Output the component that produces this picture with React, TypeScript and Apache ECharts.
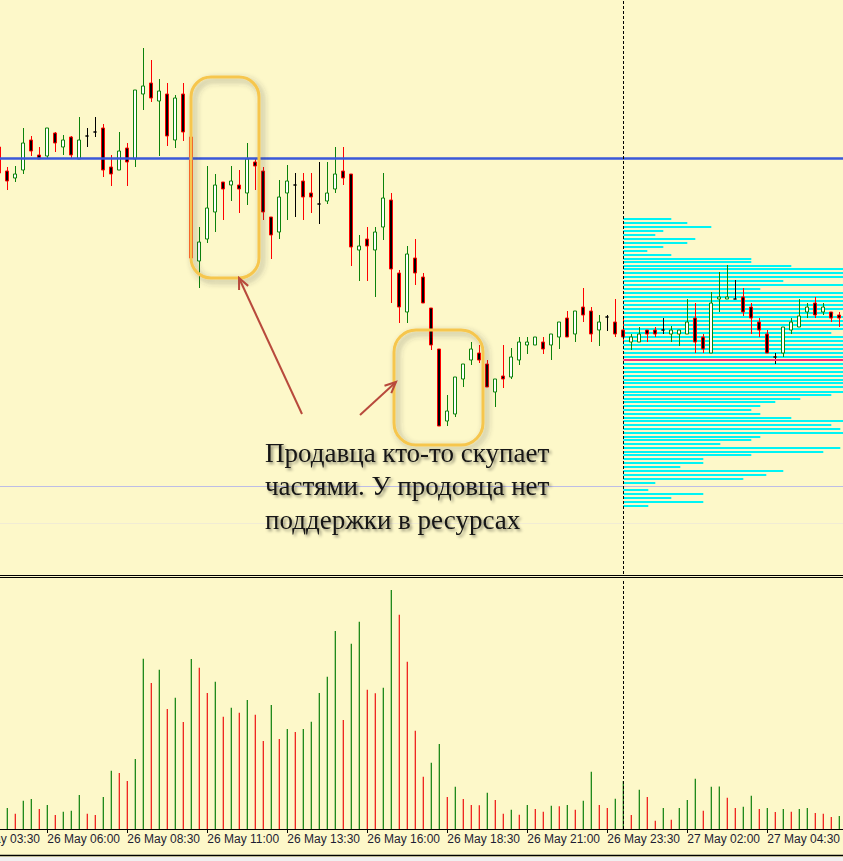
import React, { useEffect, useRef } from 'react';
import * as echarts from 'echarts';

// ---- price data (points), 15-minute candles, first candle 26 May 04:30 ----
const opens = [453, 429, 422, 430, 460, 445, 444, 467, 453, 463, 441, 464, 468, 472, 433, 430, 452, 441, 506, 517,
  499, 506, 460, 506, 463, 339, 361, 388, 418, 415, 415, 407, 438, 429, 383, 368, 407, 415, 419, 407,
  396, 399, 411, 429, 426, 350, 361, 350, 373, 400, 327, 288, 342, 323, 292, 251, 179, 186, 221, 240,
  247, 236, 208, 224, 223, 240, 255, 255, 258, 255, 263, 282, 266, 293, 289, 270, 283, 278, 270, 258,
  258, 270, 270, 270, 266, 266, 266, 282, 263, 247, 301, 301, 301, 303, 293, 278, 266, 243, 247, 270,
  273, 288, 297, 288, 288, 285];
const highs = [457, 433, 434, 472, 464, 453, 472, 468, 465, 464, 483, 472, 483, 476, 445, 468, 457, 510, 552, 540,
  521, 517, 505, 517, 502, 373, 434, 426, 418, 434, 430, 457, 441, 433, 383, 420, 435, 427, 427, 427,
  438, 438, 453, 453, 426, 365, 373, 373, 427, 407, 330, 354, 361, 327, 292, 251, 205, 223, 236, 258,
  255, 240, 221, 255, 252, 263, 263, 263, 263, 266, 278, 289, 289, 312, 293, 285, 285, 301, 282, 266,
  273, 270, 273, 282, 274, 270, 301, 297, 266, 308, 328, 335, 320, 312, 297, 282, 270, 247, 273, 282,
  301, 297, 303, 297, 288, 288];
const lows = [423, 410, 418, 426, 444, 441, 441, 448, 445, 441, 441, 453, 463, 423, 414, 430, 414, 433, 490, 498,
  444, 454, 452, 459, 340, 312, 357, 368, 380, 399, 387, 395, 410, 380, 341, 361, 380, 383, 380, 387,
  376, 396, 407, 415, 334, 319, 319, 303, 360, 297, 277, 277, 315, 297, 250, 174, 174, 183, 213, 235,
  237, 213, 193, 212, 221, 235, 246, 255, 246, 240, 251, 263, 258, 278, 258, 254, 269, 263, 257, 250,
  258, 258, 263, 266, 258, 254, 266, 247, 247, 247, 288, 301, 301, 284, 266, 263, 247, 236, 243, 266,
  273, 282, 282, 285, 278, 273];
const closes = [427, 419, 426, 457, 449, 441, 472, 457, 460, 445, 460, 464, 468, 430, 426, 449, 438, 510, 514, 502,
  509, 464, 502, 468, 342, 358, 392, 415, 411, 419, 411, 441, 434, 388, 365, 403, 419, 415, 403, 403,
  396, 407, 426, 422, 353, 354, 354, 368, 402, 331, 293, 346, 327, 297, 255, 174, 189, 223, 236, 251,
  240, 213, 221, 221, 243, 258, 258, 263, 251, 266, 278, 263, 289, 285, 266, 278, 283, 266, 263, 263,
  266, 266, 266, 270, 270, 270, 278, 258, 251, 297, 303, 303, 301, 288, 282, 270, 247, 243, 273, 278,
  284, 293, 285, 293, 282, 282];
const volumes = [180, 210, 153, 283, 300, 200, 240, 140, 173, 183, 340, 153, 140, 320, 583, 560, 480, 700, 1703, 1460,
  1593, 1200, 1313, 1070, 1700, 1613, 1360, 1473, 1123, 1213, 1163, 1290, 1143, 880, 1240, 900, 1000, 970, 1000, 1073,
  1360, 1523, 1980, 1090, 1853, 2073, 1393, 1357, 1413, 2390, 2143, 1673, 983, 523, 663, 850, 320, 423, 300, 240,
  237, 363, 290, 153, 193, 143, 240, 200, 173, 233, 227, 240, 193, 283, 573, 240, 210, 303, 480, 140,
  393, 320, 83, 210, 93, 210, 290, 503, 183, 423, 425, 313, 210, 223, 333, 200, 210, 170, 200, 173,
  200, 210, 160, 153, 120, 130];

// x-axis tick labels (every 10 bars, starting 4 bars before the first candle)
const timeLabels = ['26 May 03:30', '26 May 06:00', '26 May 08:30', '26 May 11:00', '26 May 13:30', '26 May 16:00',
  '26 May 18:30', '26 May 21:00', '26 May 23:30', '27 May 02:00', '27 May 04:30'];
const leadBars = 4;
const labelEvery = 10;

// horizontal levels
const blueLevel = 442;
const lavenderLevel = 114;
const faintLevel = 77;
const dayBreakIndex = 78; // 27 May 00:00

// volume profile of the new day
const profilePrices = [381, 377, 373, 369, 365, 361, 357, 353, 349, 345, 341, 338, 334, 331, 327, 323, 319, 315, 311, 307,
  303, 299, 295, 291, 287, 283, 279, 275, 271, 267, 263, 259, 255, 251, 247, 243, 236, 232, 228, 224,
  220, 217, 213, 208, 205, 201, 198, 194, 190, 186, 182, 179, 175, 171, 167, 163, 160, 156, 152, 148,
  145, 141, 137, 133, 129, 125, 121, 117, 110, 106, 102, 98, 94];
const profileVolumes = [48, 64, 88, 40, 32, 72, 64, 40, 24, 48, 128, 128, 168, 240, 240, 240, 160, 240, 137, 240,
  240, 240, 240, 240, 210, 240, 240, 240, 240, 208, 240, 240, 240, 240, 240, 240, 240, 240, 240, 240,
  240, 240, 240, 240, 208, 177, 152, 137, 128, 137, 168, 240, 208, 217, 240, 137, 128, 97, 217, 200,
  128, 80, 80, 57, 160, 143, 120, 32, 25, 80, 48, 80, 25];
const pocPrice = 240;

const BG = '#fdf8c9';
const BAR = 8;
const N = opens.length;
const OX = 40; // the chart canvas starts OX px left of the page, so the first bars can be cut off
const CW = 843 + OX + 10;
const mainLeft = OX - 4.7;

function arrow(x1: number, y1: number, x2: number, y2: number, color: string) {
  const a = Math.atan2(y2 - y1, x2 - x1);
  const len = 11, half = 5;
  const bx = x2 - len * Math.cos(a), by = y2 - len * Math.sin(a);
  const px = -Math.sin(a) * half, py = Math.cos(a) * half;
  return [
    { type: 'line', z: 50, shape: { x1: x1 + OX, y1, x2: x2 + OX, y2 }, style: { stroke: color, lineWidth: 2 } },
    { type: 'polyline', z: 50, shape: { points: [[bx + px + OX, by + py], [x2 + OX, y2], [bx - px + OX, by - py]] }, style: { stroke: color, lineWidth: 2, fill: null } },
  ];
}

function buildOption() {
  const candleData = opens.map((o, i) => [o, closes[i], lows[i], highs[i]]);
  const green = '#0a7d0a';
  const red = '#ee1010';
  const volData: any[] = [];
  for (let k = 0; k < leadBars; k++) volData.push('-');
  volumes.forEach((v, i) => {
    const up = i === 0 || v > volumes[i - 1];
    volData.push({ value: v, itemStyle: { color: up ? green : red } });
  });
  const mainCats = opens.map((_, i) => String(i));
  const volCats = Array.from({ length: N + leadBars }, (_, i) => String(i));
  const profileLeft = mainLeft + (dayBreakIndex + 0.5) * BAR;
  const boxStyle = {
    fill: null, stroke: '#f6c64e', lineWidth: 3,
    shadowBlur: 6, shadowColor: 'rgba(60,60,60,0.45)', shadowOffsetX: 3, shadowOffsetY: 3,
  };
  const arrowColor = '#b84a3c';
  return {
    animation: false,
    backgroundColor: BG,
    grid: [
      { left: mainLeft, top: 0, width: N * BAR, height: 574 },
      { left: mainLeft - leadBars * BAR, top: 579, width: (N + leadBars) * BAR, height: 250 },
      { left: profileLeft, top: 0, width: 220, height: 574 },
    ],
    xAxis: [
      { type: 'category', gridIndex: 0, data: mainCats, show: false, boundaryGap: true },
      {
        type: 'category', gridIndex: 1, data: volCats, boundaryGap: true,
        axisLine: { show: true, lineStyle: { color: '#000', width: 1 } },
        axisTick: { show: true, alignWithLabel: true, length: 4, interval: (i: number) => i % labelEvery === 0, lineStyle: { color: '#000' } },
        axisLabel: {
          show: true, interval: (i: number) => i % labelEvery === 0,
          formatter: (v: string) => timeLabels[Number(v) / labelEvery] || '',
          align: 'left', margin: 4, fontSize: 12, fontFamily: 'Liberation Sans', color: '#1d1d33',
        },
        splitLine: { show: false },
      },
      { type: 'value', gridIndex: 2, min: 0, max: 220, show: false },
    ],
    yAxis: [
      { type: 'value', gridIndex: 0, min: 26, max: 600, show: false },
      { type: 'value', gridIndex: 1, min: 0, max: 2500, show: false },
      { type: 'value', gridIndex: 2, min: 26, max: 600, show: false },
    ],
    series: [
      {
        type: 'custom', xAxisIndex: 2, yAxisIndex: 2, z: 1, clip: true,
        data: profilePrices.map((p, i) => [profileVolumes[i], p]),
        renderItem: (params: any, api: any) => {
          const a = api.coord([0, api.value(1)]);
          const b = api.coord([api.value(0), api.value(1)]);
          return { type: 'line', shape: { x1: a[0], y1: a[1], x2: b[0], y2: b[1] }, style: { stroke: '#00f4f4', lineWidth: 2 } };
        },
        markLine: {
          silent: true, symbol: ['none', 'none'], label: { show: false },
          data: [{ yAxis: pocPrice, lineStyle: { color: '#f0307f', width: 2, type: 'solid' } }],
        },
      },
      {
        type: 'candlestick', xAxisIndex: 0, yAxisIndex: 0, z: 3, barWidth: 3.6,
        data: candleData,
        itemStyle: {
          color: '#ffffff', color0: '#000000', borderColor: '#0b820b', borderColor0: '#ff0000',
          borderColorDoji: '#000000', borderWidth: 1,
        },
        markLine: {
          silent: true, symbol: ['none', 'none'], label: { show: false },
          data: [
            { yAxis: faintLevel, lineStyle: { color: '#f1ecd4', width: 1, type: 'solid' } },
            { yAxis: lavenderLevel, lineStyle: { color: '#bdbde6', width: 1, type: 'solid' } },
            { yAxis: blueLevel, lineStyle: { color: '#3a59d9', width: 2.5, type: 'solid' } },
            { xAxis: dayBreakIndex, lineStyle: { color: '#000', width: 1, type: [3, 2] } },
          ],
        },
      },
      {
        type: 'bar', xAxisIndex: 1, yAxisIndex: 1, barWidth: 1.2, data: volData,
        markLine: {
          silent: true, symbol: ['none', 'none'], label: { show: false },
          data: [{ xAxis: dayBreakIndex + leadBars, lineStyle: { color: '#000', width: 1, type: [3, 2] } }],
        },
      },
    ],
    graphic: [
      { type: 'line', shape: { x1: 0, y1: 575.5, x2: CW, y2: 575.5 }, style: { stroke: '#000', lineWidth: 1 } },
      { type: 'line', shape: { x1: 0, y1: 577.5, x2: CW, y2: 577.5 }, style: { stroke: '#000', lineWidth: 1 } },
      { type: 'line', shape: { x1: 0, y1: 855.5, x2: CW, y2: 855.5 }, style: { stroke: '#000', lineWidth: 1.5 } },
      { type: 'rect', shape: { x: 0, y: 857, width: CW, height: 4 }, style: { fill: '#f0f0f0' } },
      { type: 'rect', z: 40, shape: { x: 191 + OX, y: 77, width: 68, height: 201, r: 20 }, style: boxStyle },
      { type: 'rect', z: 40, shape: { x: 394 + OX, y: 330, width: 89, height: 115, r: 22 }, style: boxStyle },
      ...arrow(302, 414, 239, 278, arrowColor),
      ...arrow(360, 415, 396, 382, arrowColor),
      {
        type: 'text', z: 60, x: 265 + OX, y: 436,
        style: {
          text: 'Продавца кто-то скупает\nчастями. У продовца нет\nподдержки в ресурсах',
          font: '27px "Liberation Serif"', fill: '#141414', lineHeight: 33.5,
          verticalAlign: 'top', align: 'left',
          textShadowColor: 'rgba(0,0,0,0.45)', textShadowBlur: 3, textShadowOffsetX: 2, textShadowOffsetY: 2,
        },
      },
    ],
  };
}

export default function App() {
  const ref = useRef<HTMLDivElement>(null);
  useEffect(() => {
    const el = ref.current;
    if (!el) return;
    const chart = echarts.init(el, null, { renderer: 'svg', width: CW, height: 861 });
    chart.setOption(buildOption() as any);
    return () => chart.dispose();
  }, []);
  return <div ref={ref} style={{ position: 'fixed', left: -OX, top: 0, width: CW, height: 861 }} />;
}
